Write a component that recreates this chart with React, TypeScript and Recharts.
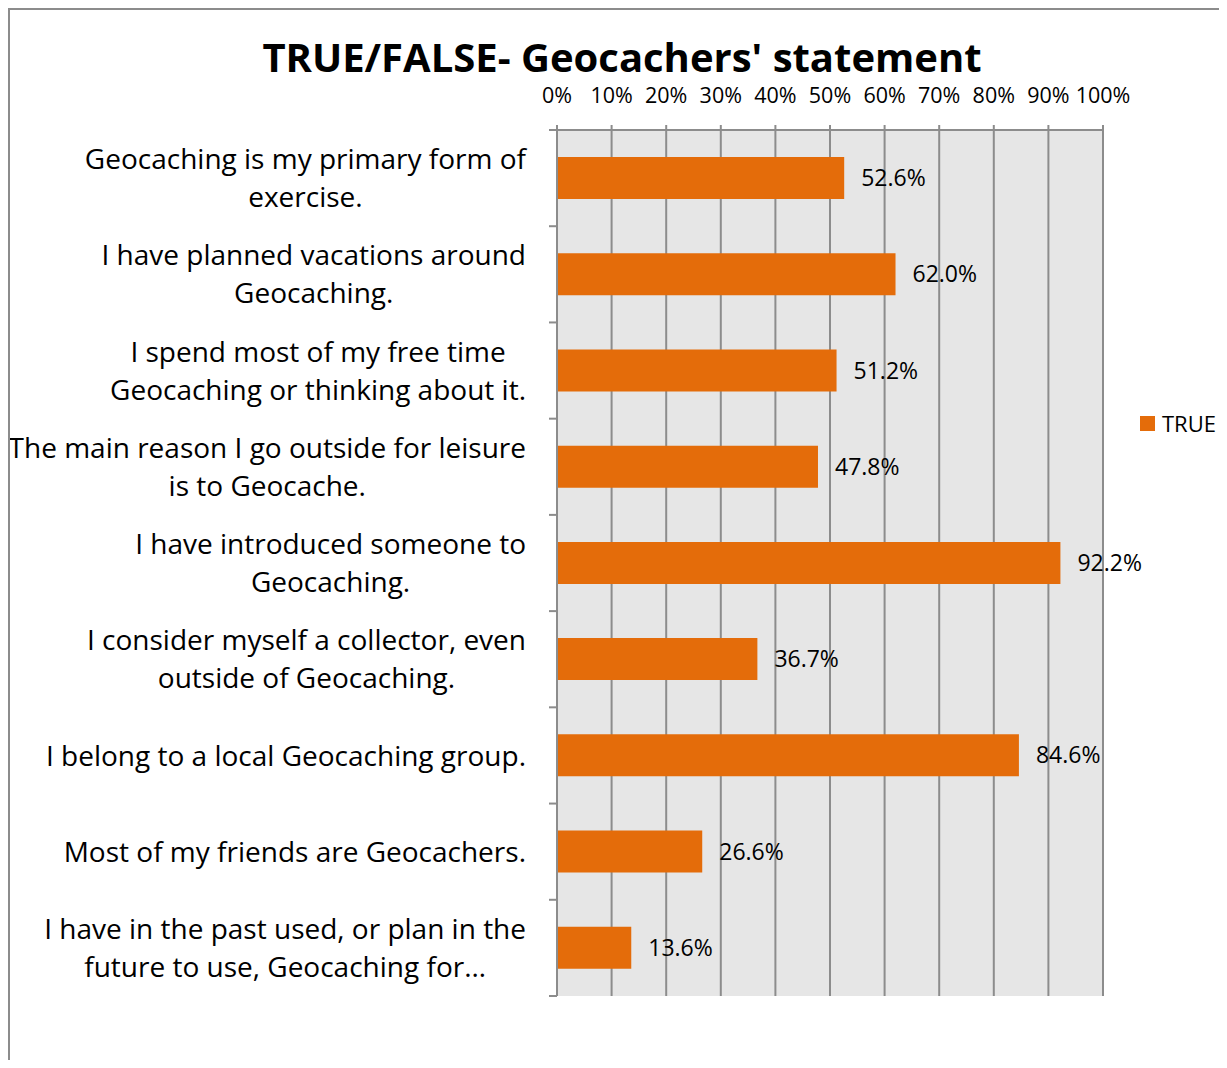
import React from "react";
import { BarChart, Bar, XAxis, YAxis, CartesianGrid, LabelList, Legend } from "recharts";

const categories: string[] = [
  "Geocaching is my primary form of\nexercise.",
  "I have planned vacations around\nGeocaching.",
  "I spend most of my free time\nGeocaching or thinking about it.",
  "The main reason I go outside for leisure\nis to Geocache.",
  "I have introduced someone to\nGeocaching.",
  "I consider myself a collector, even\noutside of Geocaching.",
  "I belong to a local Geocaching group.",
  "Most of my friends are Geocachers.",
  "I have in the past used, or plan in the\nfuture to use, Geocaching for…",
];
const trueValues: number[] = [52.6, 62.0, 51.2, 47.8, 92.2, 36.7, 84.6, 26.6, 13.6];
const xTicks: number[] = [0, 10, 20, 30, 40, 50, 60, 70, 80, 90, 100];
const seriesName = "TRUE";
const title = "TRUE/FALSE- Geocachers' statement";

const data = categories.map((c, i) => ({ category: c, value: trueValues[i] }));

const FONT = "'Open Sans', sans-serif";
const ORANGE = "#e46c0a";
const GRID = "#8c8c8c";

const W = 1209;
const H = 1050;
const PLOT_LEFT = 547;
const PLOT_TOP = 120;
const PLOT_BOTTOM = 986;
const BAND = (PLOT_BOTTOM - PLOT_TOP) / categories.length;
const LABEL_RIGHT = 516;
const LABEL_SIZE = 28;
const LINE_H = 38;

let ctx: CanvasRenderingContext2D | null = null;
function measure(t: string): number {
  if (!ctx) {
    const c = document.createElement("canvas");
    ctx = c.getContext("2d");
  }
  if (!ctx) return t.length * LABEL_SIZE * 0.5;
  ctx.font = `${LABEL_SIZE}px 'Open Sans'`;
  return ctx.measureText(t).width;
}

const CategoryTick = (props: any) => {
  const { y, payload, index } = props;
  const lines: string[] = String(payload.value).split("\n");
  const maxW = Math.max(...lines.map(measure));
  const cx = Math.max(LABEL_RIGHT - maxW / 2, maxW / 2 - 2);
  const startY = y - ((lines.length - 1) * LINE_H) / 2;
  return (
    <g>
      <line x1={PLOT_LEFT - 8} x2={PLOT_LEFT} y1={y - BAND / 2} y2={y - BAND / 2} stroke={GRID} strokeWidth={2} />
      {index === categories.length - 1 && (
        <line x1={PLOT_LEFT - 8} x2={PLOT_LEFT} y1={y + BAND / 2} y2={y + BAND / 2} stroke={GRID} strokeWidth={2} />
      )}
      <text x={cx} textAnchor="middle" fontFamily={FONT} fontSize={LABEL_SIZE} fill="#000">
        {lines.map((l, i) => (
          <tspan key={i} x={cx} y={startY + i * LINE_H} dy="0.36em">
            {l}
          </tspan>
        ))}
      </text>
    </g>
  );
};

const LegendContent = () => (
  <div style={{ display: "flex", alignItems: "center", fontFamily: FONT, fontSize: 22, color: "#000", height: 28 }}>
    <span style={{ display: "inline-block", width: 15, height: 15, background: ORANGE, marginRight: 7 }} />
    <span>{seriesName}</span>
  </div>
);

export default function App() {
  return (
    <div style={{ borderTop: `2px solid ${GRID}`, borderLeft: `2px solid ${GRID}`, width: W, height: H }}>
      <BarChart
        width={W}
        height={H}
        data={data}
        layout="vertical"
        margin={{ top: PLOT_TOP - 40, left: 7, right: 37, bottom: H - PLOT_BOTTOM }}
      >
        <text x={612} y={62} textAnchor="middle" fontFamily={FONT} fontWeight={700} fontSize={40} fill="#000">
          {title}
        </text>
        <CartesianGrid horizontal={false} vertical={true} fill="#e6e6e6" stroke={GRID} strokeWidth={2} />
        <XAxis
          type="number"
          orientation="top"
          domain={[0, 100]}
          ticks={xTicks}
          tickFormatter={(v: number) => `${v}%`}
          height={40}
          tickSize={5}
          tickMargin={22}
          interval={0}
          axisLine={{ stroke: GRID, strokeWidth: 2 }}
          tickLine={{ stroke: GRID, strokeWidth: 2 }}
          tick={{ fontFamily: FONT, fontSize: 21.5, fill: "#000" }}
        />
        <YAxis
          type="category"
          dataKey="category"
          width={540}
          interval={0}
          tickLine={false}
          axisLine={{ stroke: GRID, strokeWidth: 2 }}
          tick={<CategoryTick />}
        />
        <Legend
          layout="vertical"
          align="right"
          verticalAlign="middle"
          content={<LegendContent />}
          wrapperStyle={{ position: "absolute", left: 1130, top: 399, width: 79, height: 28 }}
        />
        <Bar dataKey="value" name={seriesName} fill={ORANGE} barSize={42} isAnimationActive={false}>
          <LabelList
            dataKey="value"
            position="right"
            offset={17}
            formatter={(v: any) => `${Number(v).toFixed(1)}%`}
            style={{ fontFamily: FONT, fontSize: 23, fill: "#000" }}
          />
        </Bar>
      </BarChart>
    </div>
  );
}
